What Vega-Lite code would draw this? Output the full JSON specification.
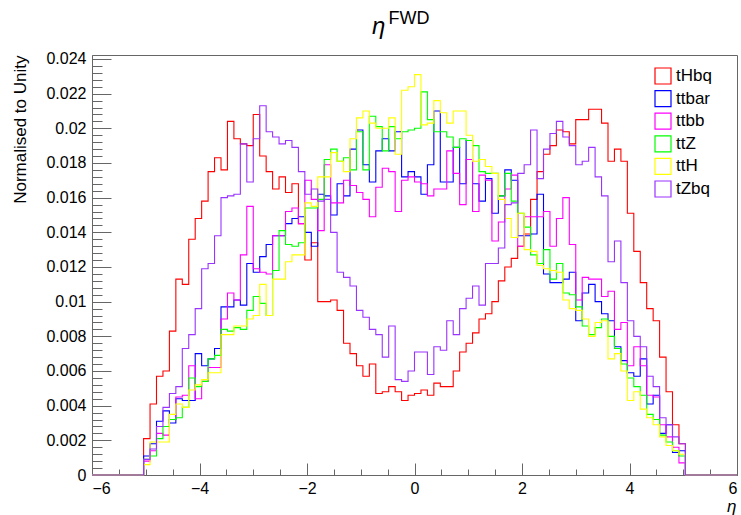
{
  "$schema": "https://vega.github.io/schema/vega-lite/v6.json",
  "width": 645,
  "height": 420,
  "autosize": {"type": "none"},
  "padding": {"left": 92, "top": 55, "right": 4, "bottom": 40},
  "background": "white",
  "config": {
    "font": "Liberation Sans",
    "view": {"stroke": "#666666", "strokeWidth": 1},
    "axis": {"grid": false, "domainColor": "#666666", "tickColor": "#666666", "labelColor": "#000000", "titleColor": "#000000", "labelFont": "Liberation Sans", "titleFont": "Liberation Sans", "titleFontWeight": "normal"}
  },
  "title": {
    "text": "η",
    "anchor": "start",
    "dx": 361,
    "font": "Liberation Sans",
    "fontSize": 24,
    "fontStyle": "italic",
    "fontWeight": "normal",
    "color": "#000000",
    "offset": -30
  },
  "data": {"values": [
    {"eta": -6, "tHbq": 0, "ttbar": 0, "ttbb": 0, "ttZ": 0, "ttH": 0, "tZbq": 0},
    {"eta": -5.04, "tHbq": 0.0021, "ttbar": 0.0011, "ttbb": 0.0008, "ttZ": 0.0009, "ttH": 0.0006, "tZbq": 0.0009},
    {"eta": -4.92, "tHbq": 0.0041, "ttbar": 0.0018, "ttbb": 0.0014, "ttZ": 0.0011, "ttH": 0.0019, "tZbq": 0.0015},
    {"eta": -4.8, "tHbq": 0.0057, "ttbar": 0.0031, "ttbb": 0.0024, "ttZ": 0.0021, "ttH": 0.0019, "tZbq": 0.0028},
    {"eta": -4.68, "tHbq": 0.0060, "ttbar": 0.0037, "ttbb": 0.0023, "ttZ": 0.0028, "ttH": 0.0019, "tZbq": 0.0039},
    {"eta": -4.56, "tHbq": 0.0083, "ttbar": 0.0030, "ttbb": 0.0032, "ttZ": 0.0032, "ttH": 0.0035, "tZbq": 0.0047},
    {"eta": -4.44, "tHbq": 0.0113, "ttbar": 0.0044, "ttbb": 0.0045, "ttZ": 0.0033, "ttH": 0.0041, "tZbq": 0.0051},
    {"eta": -4.32, "tHbq": 0.0110, "ttbar": 0.0043, "ttbb": 0.0046, "ttZ": 0.0039, "ttH": 0.0039, "tZbq": 0.0073},
    {"eta": -4.2, "tHbq": 0.0136, "ttbar": 0.0043, "ttbb": 0.0063, "ttZ": 0.0056, "ttH": 0.0049, "tZbq": 0.0081},
    {"eta": -4.08, "tHbq": 0.0148, "ttbar": 0.0070, "ttbb": 0.0044, "ttZ": 0.0051, "ttH": 0.0052, "tZbq": 0.0096},
    {"eta": -3.96, "tHbq": 0.0158, "ttbar": 0.0063, "ttbb": 0.0054, "ttZ": 0.0054, "ttH": 0.0055, "tZbq": 0.0119},
    {"eta": -3.84, "tHbq": 0.0175, "ttbar": 0.0067, "ttbb": 0.0062, "ttZ": 0.0067, "ttH": 0.0059, "tZbq": 0.0122},
    {"eta": -3.72, "tHbq": 0.0183, "ttbar": 0.0073, "ttbb": 0.0062, "ttZ": 0.0069, "ttH": 0.0059, "tZbq": 0.0138},
    {"eta": -3.6, "tHbq": 0.0176, "ttbar": 0.0097, "ttbb": 0.0090, "ttZ": 0.0084, "ttH": 0.0081, "tZbq": 0.0160},
    {"eta": -3.48, "tHbq": 0.0204, "ttbar": 0.0097, "ttbb": 0.0105, "ttZ": 0.0083, "ttH": 0.0081, "tZbq": 0.0161},
    {"eta": -3.36, "tHbq": 0.0194, "ttbar": 0.0101, "ttbb": 0.0101, "ttZ": 0.0085, "ttH": 0.0086, "tZbq": 0.0162},
    {"eta": -3.24, "tHbq": 0.0191, "ttbar": 0.0098, "ttbb": 0.0127, "ttZ": 0.0084, "ttH": 0.0086, "tZbq": 0.0191},
    {"eta": -3.12, "tHbq": 0.0190, "ttbar": 0.0122, "ttbb": 0.0155, "ttZ": 0.0095, "ttH": 0.0090, "tZbq": 0.0169},
    {"eta": -3.0, "tHbq": 0.0208, "ttbar": 0.0117, "ttbb": 0.0119, "ttZ": 0.0103, "ttH": 0.0092, "tZbq": 0.0194},
    {"eta": -2.88, "tHbq": 0.0184, "ttbar": 0.0126, "ttbb": 0.0117, "ttZ": 0.0099, "ttH": 0.0110, "tZbq": 0.0213},
    {"eta": -2.76, "tHbq": 0.0175, "ttbar": 0.0133, "ttbb": 0.0116, "ttZ": 0.0092, "ttH": 0.0092, "tZbq": 0.0198},
    {"eta": -2.64, "tHbq": 0.0165, "ttbar": 0.0138, "ttbb": 0.0138, "ttZ": 0.0118, "ttH": 0.0113, "tZbq": 0.0195},
    {"eta": -2.52, "tHbq": 0.0172, "ttbar": 0.0138, "ttbb": 0.0138, "ttZ": 0.0141, "ttH": 0.0113, "tZbq": 0.0191},
    {"eta": -2.4, "tHbq": 0.0163, "ttbar": 0.0145, "ttbb": 0.0152, "ttZ": 0.0133, "ttH": 0.0123, "tZbq": 0.0193},
    {"eta": -2.28, "tHbq": 0.0168, "ttbar": 0.0148, "ttbb": 0.0154, "ttZ": 0.0132, "ttH": 0.0127, "tZbq": 0.0189},
    {"eta": -2.16, "tHbq": 0.0145, "ttbar": 0.0149, "ttbb": 0.0145, "ttZ": 0.0134, "ttH": 0.0127, "tZbq": 0.0175},
    {"eta": -2.04, "tHbq": 0.0124, "ttbar": 0.0140, "ttbb": 0.0170, "ttZ": 0.0154, "ttH": 0.0157, "tZbq": 0.0162},
    {"eta": -1.92, "tHbq": 0.0134, "ttbar": 0.0132, "ttbb": 0.0159, "ttZ": 0.0154, "ttH": 0.0155, "tZbq": 0.0165},
    {"eta": -1.8, "tHbq": 0.0100, "ttbar": 0.0162, "ttbb": 0.0141, "ttZ": 0.0159, "ttH": 0.0172, "tZbq": 0.0158},
    {"eta": -1.68, "tHbq": 0.0100, "ttbar": 0.0161, "ttbb": 0.0179, "ttZ": 0.0182, "ttH": 0.0172, "tZbq": 0.0159},
    {"eta": -1.56, "tHbq": 0.0101, "ttbar": 0.0150, "ttbb": 0.0157, "ttZ": 0.0188, "ttH": 0.0186, "tZbq": 0.0140},
    {"eta": -1.44, "tHbq": 0.0095, "ttbar": 0.0168, "ttbb": 0.0157, "ttZ": 0.0181, "ttH": 0.0181, "tZbq": 0.0117},
    {"eta": -1.32, "tHbq": 0.0076, "ttbar": 0.0161, "ttbb": 0.0170, "ttZ": 0.0183, "ttH": 0.0175, "tZbq": 0.0114},
    {"eta": -1.2, "tHbq": 0.0070, "ttbar": 0.0188, "ttbb": 0.0167, "ttZ": 0.0176, "ttH": 0.0194, "tZbq": 0.0109},
    {"eta": -1.08, "tHbq": 0.0063, "ttbar": 0.0199, "ttbb": 0.0163, "ttZ": 0.0198, "ttH": 0.0206, "tZbq": 0.0095},
    {"eta": -0.96, "tHbq": 0.0057, "ttbar": 0.0179, "ttbb": 0.0159, "ttZ": 0.0176, "ttH": 0.0210, "tZbq": 0.0091},
    {"eta": -0.84, "tHbq": 0.0064, "ttbar": 0.0169, "ttbb": 0.0149, "ttZ": 0.0207, "ttH": 0.0203, "tZbq": 0.0084},
    {"eta": -0.72, "tHbq": 0.0047, "ttbar": 0.0187, "ttbb": 0.0166, "ttZ": 0.0201, "ttH": 0.0200, "tZbq": 0.0081},
    {"eta": -0.6, "tHbq": 0.0048, "ttbar": 0.0194, "ttbb": 0.0177, "ttZ": 0.0187, "ttH": 0.0200, "tZbq": 0.0068},
    {"eta": -0.48, "tHbq": 0.0051, "ttbar": 0.0187, "ttbb": 0.0175, "ttZ": 0.0201, "ttH": 0.0206, "tZbq": 0.0086},
    {"eta": -0.36, "tHbq": 0.0048, "ttbar": 0.0198, "ttbb": 0.0152, "ttZ": 0.0194, "ttH": 0.0185, "tZbq": 0.0055},
    {"eta": -0.24, "tHbq": 0.0043, "ttbar": 0.0172, "ttbb": 0.0170, "ttZ": 0.0198, "ttH": 0.0222, "tZbq": 0.0054},
    {"eta": -0.12, "tHbq": 0.0046, "ttbar": 0.0175, "ttbb": 0.0172, "ttZ": 0.0199, "ttH": 0.0224, "tZbq": 0.0060},
    {"eta": 0.0, "tHbq": 0.0047, "ttbar": 0.0172, "ttbb": 0.0169, "ttZ": 0.0200, "ttH": 0.0231, "tZbq": 0.0071},
    {"eta": 0.12, "tHbq": 0.0049, "ttbar": 0.0162, "ttbb": 0.0168, "ttZ": 0.0221, "ttH": 0.0202, "tZbq": 0.0071},
    {"eta": 0.24, "tHbq": 0.0046, "ttbar": 0.0179, "ttbb": 0.0161, "ttZ": 0.0205, "ttH": 0.0203, "tZbq": 0.0058},
    {"eta": 0.36, "tHbq": 0.0053, "ttbar": 0.0210, "ttbb": 0.0165, "ttZ": 0.0198, "ttH": 0.0216, "tZbq": 0.0074},
    {"eta": 0.48, "tHbq": 0.0051, "ttbar": 0.0169, "ttbb": 0.0165, "ttZ": 0.0198, "ttH": 0.0209, "tZbq": 0.0072},
    {"eta": 0.6, "tHbq": 0.0051, "ttbar": 0.0169, "ttbb": 0.0187, "ttZ": 0.0195, "ttH": 0.0203, "tZbq": 0.0089},
    {"eta": 0.72, "tHbq": 0.0060, "ttbar": 0.0189, "ttbb": 0.0174, "ttZ": 0.0189, "ttH": 0.0210, "tZbq": 0.0081},
    {"eta": 0.84, "tHbq": 0.0071, "ttbar": 0.0168, "ttbb": 0.0156, "ttZ": 0.0194, "ttH": 0.0210, "tZbq": 0.0096},
    {"eta": 0.96, "tHbq": 0.0076, "ttbar": 0.0193, "ttbb": 0.0182, "ttZ": 0.0193, "ttH": 0.0196, "tZbq": 0.0102},
    {"eta": 1.08, "tHbq": 0.0082, "ttbar": 0.0168, "ttbb": 0.0152, "ttZ": 0.0190, "ttH": 0.0181, "tZbq": 0.0109},
    {"eta": 1.2, "tHbq": 0.0090, "ttbar": 0.0158, "ttbb": 0.0173, "ttZ": 0.0175, "ttH": 0.0182, "tZbq": 0.0098},
    {"eta": 1.32, "tHbq": 0.0093, "ttbar": 0.0171, "ttbb": 0.0170, "ttZ": 0.0174, "ttH": 0.0178, "tZbq": 0.0122},
    {"eta": 1.44, "tHbq": 0.0100, "ttbar": 0.0151, "ttbb": 0.0135, "ttZ": 0.0174, "ttH": 0.0174, "tZbq": 0.0122},
    {"eta": 1.56, "tHbq": 0.0112, "ttbar": 0.0161, "ttbb": 0.0146, "ttZ": 0.0161, "ttH": 0.0159, "tZbq": 0.0131},
    {"eta": 1.68, "tHbq": 0.0120, "ttbar": 0.0176, "ttbb": 0.0165, "ttZ": 0.0174, "ttH": 0.0148, "tZbq": 0.0156},
    {"eta": 1.8, "tHbq": 0.0125, "ttbar": 0.0170, "ttbb": 0.0173, "ttZ": 0.0158, "ttH": 0.0137, "tZbq": 0.0157},
    {"eta": 1.92, "tHbq": 0.0132, "ttbar": 0.0138, "ttbb": 0.0132, "ttZ": 0.0151, "ttH": 0.0151, "tZbq": 0.0174},
    {"eta": 2.04, "tHbq": 0.0139, "ttbar": 0.0138, "ttbb": 0.0149, "ttZ": 0.0143, "ttH": 0.0130, "tZbq": 0.0179},
    {"eta": 2.16, "tHbq": 0.0159, "ttbar": 0.0139, "ttbb": 0.0149, "ttZ": 0.0127, "ttH": 0.0129, "tZbq": 0.0199},
    {"eta": 2.28, "tHbq": 0.0175, "ttbar": 0.0162, "ttbb": 0.0149, "ttZ": 0.0122, "ttH": 0.0121, "tZbq": 0.0171},
    {"eta": 2.4, "tHbq": 0.0185, "ttbar": 0.0116, "ttbb": 0.0152, "ttZ": 0.0130, "ttH": 0.0119, "tZbq": 0.0188},
    {"eta": 2.52, "tHbq": 0.0190, "ttbar": 0.0111, "ttbb": 0.0132, "ttZ": 0.0113, "ttH": 0.0118, "tZbq": 0.0197},
    {"eta": 2.64, "tHbq": 0.0199, "ttbar": 0.0111, "ttbb": 0.0148, "ttZ": 0.0122, "ttH": 0.0117, "tZbq": 0.0204},
    {"eta": 2.76, "tHbq": 0.0198, "ttbar": 0.0113, "ttbb": 0.0160, "ttZ": 0.0105, "ttH": 0.0101, "tZbq": 0.0195},
    {"eta": 2.88, "tHbq": 0.0191, "ttbar": 0.0117, "ttbb": 0.0133, "ttZ": 0.0104, "ttH": 0.0096, "tZbq": 0.0190},
    {"eta": 3.0, "tHbq": 0.0205, "ttbar": 0.0089, "ttbb": 0.0101, "ttZ": 0.0097, "ttH": 0.0095, "tZbq": 0.0179},
    {"eta": 3.12, "tHbq": 0.0205, "ttbar": 0.0105, "ttbb": 0.0114, "ttZ": 0.0086, "ttH": 0.0090, "tZbq": 0.0181},
    {"eta": 3.24, "tHbq": 0.0211, "ttbar": 0.0110, "ttbb": 0.0113, "ttZ": 0.0081, "ttH": 0.0080, "tZbq": 0.0189},
    {"eta": 3.36, "tHbq": 0.0211, "ttbar": 0.0100, "ttbb": 0.0113, "ttZ": 0.0085, "ttH": 0.0088, "tZbq": 0.0172},
    {"eta": 3.48, "tHbq": 0.0203, "ttbar": 0.0093, "ttbb": 0.0103, "ttZ": 0.0090, "ttH": 0.0089, "tZbq": 0.0161},
    {"eta": 3.6, "tHbq": 0.0181, "ttbar": 0.0089, "ttbb": 0.0106, "ttZ": 0.0080, "ttH": 0.0067, "tZbq": 0.0123},
    {"eta": 3.72, "tHbq": 0.0188, "ttbar": 0.0074, "ttbb": 0.0084, "ttZ": 0.0073, "ttH": 0.0070, "tZbq": 0.0135},
    {"eta": 3.84, "tHbq": 0.0181, "ttbar": 0.0066, "ttbb": 0.0088, "ttZ": 0.0064, "ttH": 0.0060, "tZbq": 0.0111},
    {"eta": 3.96, "tHbq": 0.0151, "ttbar": 0.0059, "ttbb": 0.0063, "ttZ": 0.0056, "ttH": 0.0043, "tZbq": 0.0089},
    {"eta": 4.08, "tHbq": 0.0129, "ttbar": 0.0057, "ttbb": 0.0074, "ttZ": 0.0051, "ttH": 0.0048, "tZbq": 0.0080},
    {"eta": 4.2, "tHbq": 0.0111, "ttbar": 0.0067, "ttbb": 0.0063, "ttZ": 0.0046, "ttH": 0.0038, "tZbq": 0.0074},
    {"eta": 4.32, "tHbq": 0.0096, "ttbar": 0.0041, "ttbb": 0.0046, "ttZ": 0.0035, "ttH": 0.0033, "tZbq": 0.0057},
    {"eta": 4.44, "tHbq": 0.0089, "ttbar": 0.0046, "ttbb": 0.0045, "ttZ": 0.0032, "ttH": 0.0029, "tZbq": 0.0051},
    {"eta": 4.56, "tHbq": 0.0068, "ttbar": 0.0024, "ttbb": 0.0029, "ttZ": 0.0023, "ttH": 0.0022, "tZbq": 0.0033},
    {"eta": 4.68, "tHbq": 0.0048, "ttbar": 0.0029, "ttbb": 0.0022, "ttZ": 0.0019, "ttH": 0.0017, "tZbq": 0.0029},
    {"eta": 4.8, "tHbq": 0.0029, "ttbar": 0.0013, "ttbb": 0.0016, "ttZ": 0.0014, "ttH": 0.0014, "tZbq": 0.0022},
    {"eta": 4.92, "tHbq": 0.0018, "ttbar": 0.0014, "ttbb": 0.0007, "ttZ": 0.0011, "ttH": 0.0012, "tZbq": 0.0018},
    {"eta": 5.04, "tHbq": 0, "ttbar": 0, "ttbb": 0, "ttZ": 0, "ttH": 0, "tZbq": 0},
    {"eta": 6, "tHbq": 0, "ttbar": 0, "ttbb": 0, "ttZ": 0, "ttH": 0, "tZbq": 0}
  ]},
  "transform": [
    {"fold": ["tHbq", "ttbar", "ttbb", "ttZ", "ttH", "tZbq"], "as": ["sample", "value"]}
  ],
  "layer": [
    {
      "mark": {"type": "line", "opacity": 0},
      "encoding": {
        "x": {"field": "eta", "type": "quantitative", "scale": {"domain": [-6, 6], "nice": false, "zero": false},
          "axis": {"orient": "top", "ticks": false, "labels": false, "domain": false, "title": "FWD", "titleFontSize": 18, "titleAnchor": "start", "titleAlign": "left", "titleBaseline": "alphabetic", "titleX": 296, "titleY": -32}},
        "y": {"field": "value", "type": "quantitative", "scale": {"domain": [0, 0.02423], "nice": false, "zero": true}, "axis": null}
      }
    },
    {
      "mark": {"type": "line", "opacity": 0},
      "encoding": {
        "x": {"field": "eta", "type": "quantitative", "scale": {"domain": [-6, 6], "nice": false, "zero": false},
          "axis": {"orient": "bottom", "values": [-5.5, -5, -4.5, -3.5, -3, -2.5, -1.5, -1, -0.5, 0.5, 1, 1.5, 2.5, 3, 3.5, 4.5, 5, 5.5], "labels": false, "domain": false, "tickSize": -6, "title": null}},
        "y": {"field": "value", "type": "quantitative", "scale": {"domain": [0, 0.02423], "nice": false, "zero": true},
          "axis": {"orient": "left", "values": [0, 0.0004, 0.0008, 0.0012, 0.0016, 0.002, 0.0024, 0.0028, 0.0032, 0.0036, 0.004, 0.0044, 0.0048, 0.0052, 0.0056, 0.006, 0.0064, 0.0068, 0.0072, 0.0076, 0.008, 0.0084, 0.0088, 0.0092, 0.0096, 0.01, 0.0104, 0.0108, 0.0112, 0.0116, 0.012, 0.0124, 0.0128, 0.0132, 0.0136, 0.014, 0.0144, 0.0148, 0.0152, 0.0156, 0.016, 0.0164, 0.0168, 0.0172, 0.0176, 0.018, 0.0184, 0.0188, 0.0192, 0.0196, 0.02, 0.0204, 0.0208, 0.0212, 0.0216, 0.022, 0.0224, 0.0228, 0.0232, 0.0236, 0.024], "labels": false, "domain": false, "tickSize": -10, "title": null}}
      }
    },
    {
      "mark": {"type": "line", "interpolate": "step-after", "strokeWidth": 1.1},
      "encoding": {
        "x": {"field": "eta", "type": "quantitative", "scale": {"domain": [-6, 6], "nice": false, "zero": false},
          "axis": {"orient": "bottom", "values": [-6, -4, -2, 0, 2, 4, 6], "format": "d", "tickSize": -12, "labelPadding": 17, "labelFontSize": 16, "title": "η", "titleFontSize": 17, "titleFontStyle": "italic", "titleAnchor": "end", "titleAlign": "right", "titleBaseline": "alphabetic", "titleX": 644, "titleY": 36}},
        "y": {"field": "value", "type": "quantitative", "scale": {"domain": [0, 0.02423], "nice": false, "zero": true},
          "axis": {"orient": "left", "values": [0, 0.002, 0.004, 0.006, 0.008, 0.01, 0.012, 0.014, 0.016, 0.018, 0.02, 0.022, 0.024], "format": ".3~f", "tickSize": -19, "labelPadding": 25, "labelFontSize": 16, "title": "Normalised to Unity", "titleFontSize": 17, "titleAngle": -90, "titleAlign": "right", "titleBaseline": "alphabetic", "titleX": -67, "titleY": 0}},
        "stroke": {"field": "sample", "type": "nominal",
          "scale": {"domain": ["tHbq", "ttbar", "ttbb", "ttZ", "ttH", "tZbq"], "range": ["#ff0000", "#0000ff", "#ff00ff", "#00ff00", "#ffff00", "#9933ff"]},
          "legend": {"title": null, "orient": "none", "legendX": 562, "legendY": 12, "symbolType": "square", "symbolSize": 256, "symbolStrokeWidth": 1.2, "symbolFillColor": "transparent", "labelFontSize": 17, "labelColor": "#000000", "labelOffset": 4, "rowPadding": 0.6, "padding": 0}}
      }
    }
  ],
  "resolve": {"axis": {"x": "independent", "y": "independent"}}
}
